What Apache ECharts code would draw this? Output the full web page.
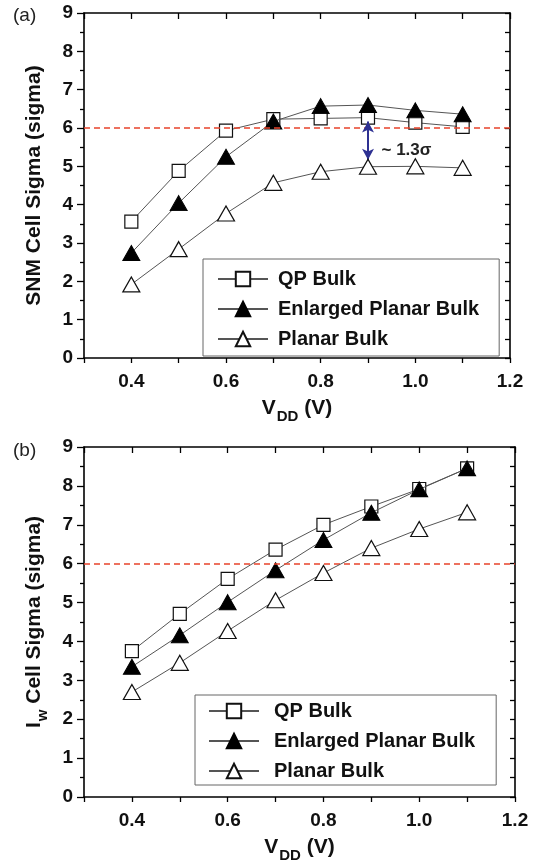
<!DOCTYPE html>
<html><head><meta charset="utf-8">
<script src="https://cdn.jsdelivr.net/npm/echarts@6/dist/echarts.min.js"></script>
<style>html,body{margin:0;padding:0;background:#fff}#c{width:538px;height:864px}</style>
</head><body><div id="c"></div>
<script>
// ---------- data ----------
const vdd = [0.4, 0.5, 0.6, 0.7, 0.8, 0.9, 1.0, 1.1];
const seriesNames = ['QP Bulk', 'Enlarged Planar Bulk', 'Planar Bulk'];
// (a) SNM cell sigma
const snmQP       = [3.56, 4.88, 5.93, 6.23, 6.25, 6.27, 6.14, 6.03];
const snmEnlarged = [2.74, 4.04, 5.25, 6.17, 6.57, 6.60, 6.46, 6.36];
const snmPlanar   = [1.92, 2.84, 3.77, 4.57, 4.86, 4.99, 5.00, 4.96];
// (b) Iw cell sigma
const iwQP        = [3.75, 4.71, 5.61, 6.36, 7.00, 7.47, 7.92, 8.45];
const iwEnlarged  = [3.35, 4.16, 5.01, 5.83, 6.61, 7.31, 7.91, 8.45];
const iwPlanar    = [2.70, 3.45, 4.27, 5.06, 5.76, 6.40, 6.89, 7.32];
// reference / annotation
const targetSigma = 6;
const arrowX = 0.9, arrowTop = 6.17, arrowBottom = 5.17;
const gapLabel = '~ 1.3σ', gapLabelY = 5.43;
const xTickLabels = ['0.4', '0.6', '0.8', '1.0', '1.2'];
const yTickLabels = ['0', '1', '2', '3', '4', '5', '6', '7', '8', '9'];

// ---------- styling ----------
const FF = "'Liberation Sans', Arial, sans-serif";
const black = '#000';
const axisLine = {show: true, onZero: false, lineStyle: {color: black, width: 1.6}};

function pair(xs, ys) { return xs.map((x, i) => [x, ys[i]]); }

const nameRich = {
  v: {fontSize: 21, fontWeight: 'bold', fontFamily: FF, color: '#111', verticalAlign: 'top', lineHeight: 24},
  s: {fontSize: 15, fontWeight: 'bold', fontFamily: FF, color: '#111', verticalAlign: 'top', lineHeight: 15, padding: [11, 0, 0, 1]}
};

function xAxes(g) {
  return [{
    type: 'value', gridIndex: g, min: 0.3, max: 1.2, interval: 0.1, position: 'bottom',
    axisLine, splitLine: {show: false},
    axisTick: {show: true, inside: false, length: 5, lineStyle: {color: black, width: 1.3}},
    axisLabel: {show: true, margin: 14, fontSize: 19, fontWeight: 'bold', color: '#111', fontFamily: FF,
      showMinLabel: true, showMaxLabel: true,
      formatter: v => { const t = (Math.round(v * 10) / 10).toFixed(1); return xTickLabels.includes(t) ? t : ''; }},
    name: '{v|V}{s|DD}{v| (V)}', nameLocation: 'middle', nameGap: 40,
    nameTextStyle: {rich: nameRich}
  }, {
    type: 'value', gridIndex: g, min: 0.3, max: 1.2, interval: 0.1, position: 'top',
    axisLine, splitLine: {show: false},
    axisTick: {show: true, inside: true, length: 6, lineStyle: {color: black, width: 1.3}},
    axisLabel: {show: false}
  }];
}
function yAxes(g, name) {
  return [{
    type: 'value', gridIndex: g, min: 0, max: 9, interval: 1, position: 'left',
    axisLine, splitLine: {show: false},
    axisTick: {show: true, inside: false, length: 7, lineStyle: {color: black, width: 1.3}},
    minorTick: {show: true, splitNumber: 2, length: 4, lineStyle: {color: black, width: 1.3}},
    axisLabel: {show: true, margin: 11, fontSize: 19, fontWeight: 'bold', color: '#111', fontFamily: FF,
      formatter: v => yTickLabels[Math.round(v)]},
    name, nameLocation: 'middle', nameGap: 36, nameRotate: 90,
    nameTextStyle: {rich: nameRich}
  }, {
    type: 'value', gridIndex: g, min: 0, max: 9, interval: 0.5, position: 'right',
    axisLine, splitLine: {show: false},
    axisTick: {show: true, inside: true, length: 5, lineStyle: {color: black, width: 1.3}},
    axisLabel: {show: false}
  }];
}

const lineStyle = {color: '#555', width: 1};
const styles = [
  {symbol: 'rect', symbolSize: 13, itemStyle: {color: '#fff', borderColor: '#111', borderWidth: 1.2}},
  {symbol: 'triangle', symbolSize: [17, 15], itemStyle: {color: '#000', borderColor: '#000', borderWidth: 1}},
  {symbol: 'triangle', symbolSize: [17, 15], itemStyle: {color: '#fff', borderColor: '#111', borderWidth: 1.2}}
];
const redLine = {
  silent: true, symbol: ['none', 'none'], label: {show: false},
  lineStyle: {color: '#e8432b', type: [6, 4], width: 1.6},
  emphasis: {disabled: true},
  data: [{yAxis: targetSigma}]
};

function makeSeries(g, arrays) {
  return arrays.map((arr, i) => {
    const s = Object.assign({
      name: seriesNames[i], type: 'line', xAxisIndex: 2 * g, yAxisIndex: 2 * g,
      data: pair(vdd, arr), lineStyle, z: 3 + i, showAllSymbol: true, animation: false
    }, styles[i]);
    if (i === 0) s.markLine = redLine;
    return s;
  });
}

const seriesA = makeSeries(0, [snmQP, snmEnlarged, snmPlanar]);
const seriesB = makeSeries(1, [iwQP, iwEnlarged, iwPlanar]);
// arrow and label in (a)
seriesA[2].markLine = {
  silent: true, symbol: ['arrow', 'arrow'], symbolSize: [9, 11], label: {show: false},
  lineStyle: {color: '#2e3192', type: 'solid', width: 2}, emphasis: {disabled: true},
  data: [[{coord: [arrowX, arrowTop]}, {coord: [arrowX, arrowBottom]}]]
};
seriesA[1].markPoint = {
  silent: true, symbol: 'circle', symbolSize: 1, itemStyle: {color: 'rgba(0,0,0,0)'},
  label: {show: true, position: 'right', distance: 13, formatter: gapLabel,
    fontSize: 17, fontWeight: 'bold', color: '#222', fontFamily: FF},
  data: [{coord: [arrowX, gapLabelY]}]
};

function legend(left, top, padding, textPad) {
  return {
    left, top, orient: 'vertical', itemWidth: 50, itemHeight: 18, itemGap: 10,
    padding, borderColor: '#666', borderWidth: 1, selectedMode: false,
    textStyle: {fontSize: 20, fontWeight: 'bold', color: '#111', fontFamily: FF, padding: [0, 0, 0, textPad]},
    data: seriesNames
  };
}

const chart = echarts.init(document.getElementById('c'), null, {renderer: 'canvas'});
chart.setOption({
  animation: false,
  backgroundColor: '#fff',
  textStyle: {fontFamily: FF},
  grid: [
    {left: 84, top: 13, width: 426, height: 345},
    {left: 84, top: 447, width: 431, height: 350}
  ],
  xAxis: [...xAxes(0), ...xAxes(1)],
  yAxis: [...yAxes(0, '{v|SNM Cell Sigma (sigma)}'), ...yAxes(1, '{v|I}{s|w}{v| Cell Sigma (sigma)}')],
  legend: [legend(203, 259, [10, 20, 7, 14], 5), legend(195, 695, [6, 21, 4, 13], 10)],
  graphic: [
    {type: 'text', left: 13, top: 6, style: {text: '(a)', fontSize: 19, fill: '#222', fontFamily: FF}},
    {type: 'text', left: 13, top: 441, style: {text: '(b)', fontSize: 19, fill: '#222', fontFamily: FF}}
  ],
  series: [...seriesA, ...seriesB]
});
</script>
</body></html>
